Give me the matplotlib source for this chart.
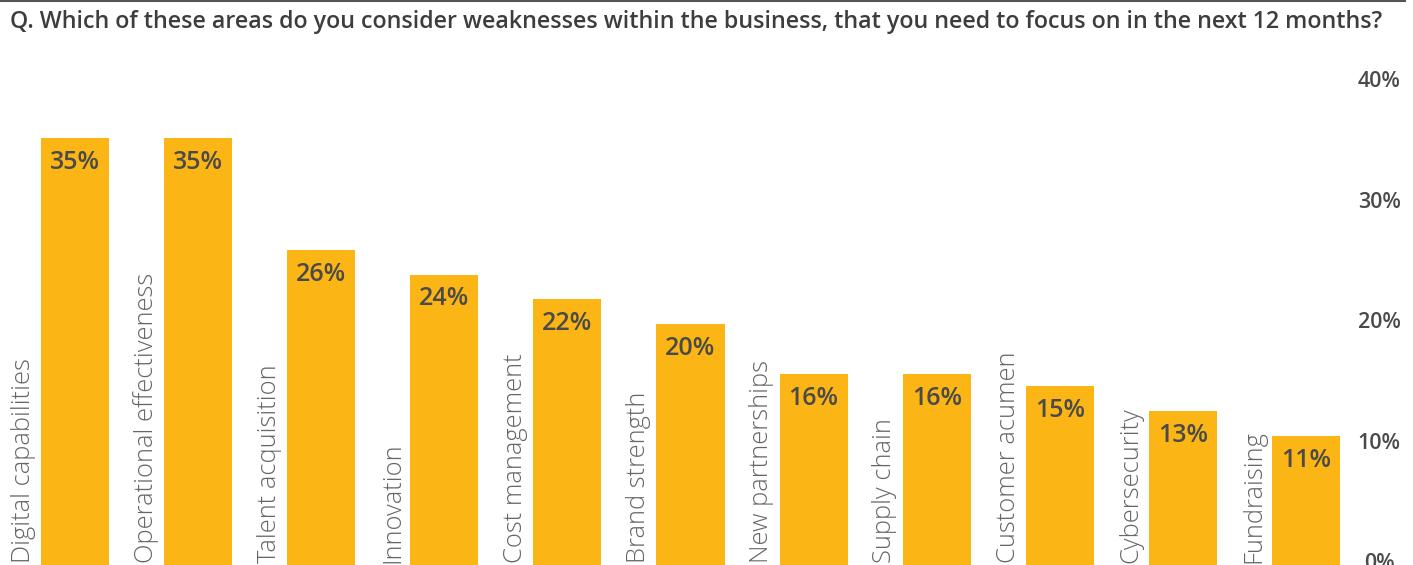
import numpy as np
import matplotlib.pyplot as plt
from matplotlib.lines import Line2D

categories = ["Digital capabilities", "Operational effectiveness", "Talent acquisition",
              "Innovation", "Cost management", "Brand strength", "New partnerships",
              "Supply chain", "Customer acumen", "Cybersecurity", "Fundraising"]
values = [35, 35, 26, 24, 22, 20, 16, 16, 15, 13, 11]
tick_vals = [0, 10, 20, 30, 40]
tick_labels = ["0%", "10%", "20%", "30%", "40%"]

title = ("Q. Which of these areas do you consider weaknesses within the business, "
         "that you need to focus on in the next 12 months?")

BAR = "#FBB615"
DARK = "#4a4a4a"
FONT = "Open Sans"

W, H = 1413, 565
fig = plt.figure(figsize=(W / 100, H / 100), dpi=100)
renderer = fig.canvas.get_renderer()


def fit(txt, target, horizontal=True):
    # scale the font size so the text covers the measured length in pixels
    bb = txt.get_window_extent(renderer)
    size = bb.width if horizontal else bb.height
    txt.set_fontsize(txt.get_fontsize() * target / size)


# axes in pixel terms: bottom at figure edge, top at y=76, right edge at 1350
ax = fig.add_axes([0, 0, 1350 / W, (565 - 76) / H])
x = np.arange(len(categories))
ax.bar(x, values, width=0.553, color=BAR, zorder=2)
ax.set_xlim(-75 / 123.1, (1350 - 75) / 123.1)
ax.set_ylim(0.61, 40)
ax.axis("off")

name_texts = []
for xi, v, name in zip(x, values, categories):
    t = ax.text(xi, v - 0.95, f"{v}%", ha="center", va="top", fontsize=16,
                color=DARK, family=FONT, fontweight="semibold")
    if xi == 0:
        fit(t, 50)
        val_size = t.get_fontsize()
    else:
        t.set_fontsize(val_size)
    n = ax.text(xi - 0.42, 0.004, name, rotation=90, ha="center", va="bottom",
                transform=ax.get_xaxis_transform(), fontsize=15, color="#666666",
                family=FONT, fontweight="light")
    name_texts.append(n)

fit(name_texts[0], 206, horizontal=False)
for n in name_texts[1:]:
    n.set_fontsize(name_texts[0].get_fontsize())

# right-hand percentage scale
ax2 = ax.twinx()
ax2.set_ylim(-0.33, 40.25)
ax2.set_yticks(tick_vals)
ax2.set_yticklabels(tick_labels, family=FONT, fontweight="semibold", fontsize=15.5, color=DARK)
ax2.tick_params(axis="y", length=0, pad=21, labelright=True)
for lbl in ax2.get_yticklabels():
    lbl.set_horizontalalignment("center")
for s in ax2.spines.values():
    s.set_visible(False)
ax2.set_xticks([])

tt = fig.text(10 / W, 1 - 22 / H, title, ha="left", va="center", fontsize=14,
              color="#3d3d3d", family=FONT, fontweight="semibold")
fit(tt, 1387)
fig.add_artist(Line2D([0, 1405 / W], [1 - 0.5 / H, 1 - 0.5 / H], color="#555555",
                      linewidth=1.5, transform=fig.transFigure))

fig.savefig("out.png", dpi=100)
